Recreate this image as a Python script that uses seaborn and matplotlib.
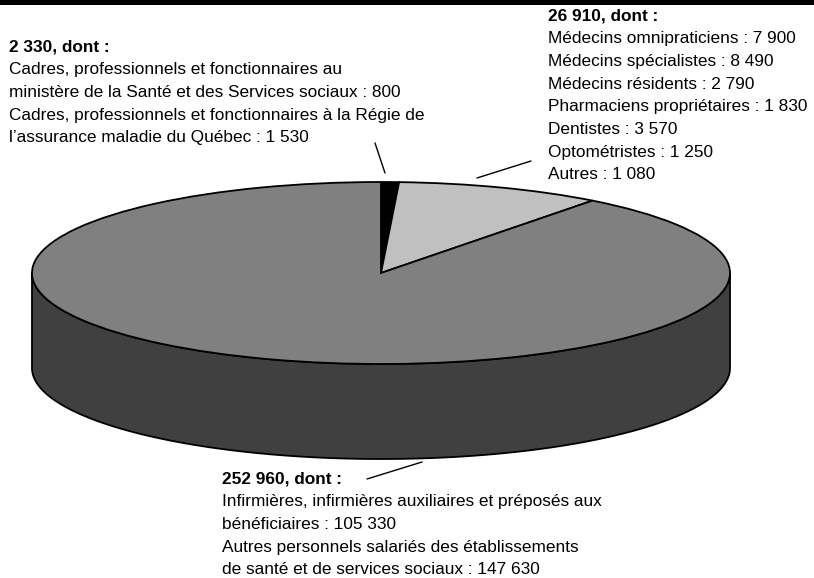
import numpy as np
import matplotlib
matplotlib.use("Agg")
import matplotlib.pyplot as plt
import seaborn as sns
from matplotlib.patches import Polygon, Rectangle

# values of the three slices (clockwise from 12 o'clock)
slice_values = [2330, 26910, 252960]
slice_colors = ["#000000", "#c0c0c0", "#808080"]
side_color = "#404040"

# label blocks: bold header then detail lines
small_lines = ["2 330, dont :",
               "Cadres, professionnels et fonctionnaires au",
               "ministère de la Santé et des Services sociaux : 800",
               "Cadres, professionnels et fonctionnaires à la Régie de",
               "l’assurance maladie du Québec : 1 530"]
medium_lines = ["26 910, dont :",
                "Médecins omnipraticiens : 7 900",
                "Médecins spécialistes : 8 490",
                "Médecins résidents : 2 790",
                "Pharmaciens propriétaires : 1 830",
                "Dentistes : 3 570",
                "Optométristes : 1 250",
                "Autres : 1 080"]
large_lines = ["252 960, dont :",
               "Infirmières, infirmières auxiliaires et préposés aux",
               "bénéficiaires : 105 330",
               "Autres personnels salariés des établissements",
               "de santé et de services sociaux : 147 630"]

sns.set_theme(style="white")
plt.rcParams["font.family"] = ["Liberation Sans", "DejaVu Sans"]

W, H = 814, 578
fig = plt.figure(figsize=(W / 100, H / 100), dpi=100)
ax = fig.add_axes([0, 0, 1, 1])

# pie geometry in pixels
cx, cy, a, b, depth = 381, 273, 349, 91, 95

# side of the 3D pie (front half only)
t = np.linspace(np.pi, 2 * np.pi, 300)
top = np.column_stack([np.cos(t), np.sin(t)])
bot = np.column_stack([np.cos(t[::-1]), np.sin(t[::-1]) - depth / b])
side = Polygon(np.vstack([top, bot]), closed=True, facecolor=side_color,
               edgecolor="black", linewidth=1.3, zorder=0.5)
ax.add_patch(side)

ax.pie(slice_values, colors=slice_colors, startangle=90, counterclock=False,
       radius=1, wedgeprops={"edgecolor": "black", "linewidth": 1.3})

# stretch so the unit circle becomes an ellipse a x b pixels
ax.set_aspect("auto")
ax.set_xlim(-cx / a, (W - cx) / a)
ax.set_ylim(-(H - cy) / b, cy / b)
ax.axis("off")


def px(x, y):
    return x / W, 1 - y / H


# thick rule at top
fig.add_artist(Rectangle((0, 1 - 5 / H), 1, 5 / H, transform=fig.transFigure,
                         facecolor="black", edgecolor="none"))

fs = 12.4
step = 22.7


def block(lines, x, y0):
    for i, s in enumerate(lines):
        fig.text(*px(x, y0 + i * step), s, fontsize=fs, va="center", ha="left",
                 fontweight="bold" if i == 0 else "normal", color="black")


block(small_lines, 9, 47)
block(medium_lines, 548, 16)
block(large_lines, 222, 479)

# leader lines
for (x1, y1), (x2, y2) in [((375, 143), (385, 173)),
                           ((477, 178), (531, 161)),
                           ((367, 479), (422, 462))]:
    fig.add_artist(plt.Line2D([x1 / W, x2 / W], [1 - y1 / H, 1 - y2 / H],
                              transform=fig.transFigure, color="black", lw=1))

fig.savefig("out.png", dpi=100)
